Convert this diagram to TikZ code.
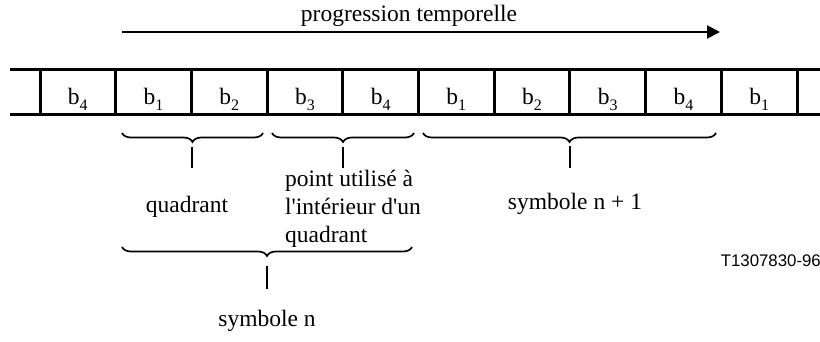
\documentclass[tikz,border=0pt]{standalone}
\usepackage{fontspec}
\setmainfont{Liberation Serif}
\newfontfamily\arialfont{Liberation Sans}
\usetikzlibrary{arrows.meta,decorations.pathreplacing}
\newcommand{\bsub}[1]{b\raisebox{-0.22em}{\fontsize{16}{16}\selectfont #1}}
\begin{document}
\begin{tikzpicture}[x=1pt,y=-1pt,
  font=\fontsize{23.5}{28}\selectfont,
  strip/.style={line width=3pt},
  lbl/.style={anchor=base,inner sep=0pt},
  bracestyle/.style={decorate,decoration={brace,mirror,amplitude=9pt},line width=1.7pt},
  tick/.style={line width=2pt},
  arr/.style={line width=2pt,-{Triangle[length=13pt,width=13pt]}}]
\useasboundingbox (0,0) rectangle (820,342);
% strip
\draw[strip] (10,70) -- (820,70);
\draw[strip] (10,115) -- (820,115);
\foreach \i in {0,...,10}{
  \draw[strip] ({40+75.7*\i},70) -- ({40+75.7*\i},115);
}
\foreach \lab [count=\k from 0] in {4,1,2,3,4,1,2,3,4,1}{
  \node[lbl] (c\k) at ({77.85+75.7*\k},105) {\bsub{\lab}};
}
% time arrow
\coordinate (a0) at (122,32);
\coordinate (a1) at (720,32);
\draw[arr] (a0) -- (a1);
\node[lbl] (prog) at (409,22) {progression temporelle};
% braces
\coordinate (q1s) at (122,133); \coordinate (q1e) at (263,133);
\coordinate (q2s) at (272,133); \coordinate (q2e) at (414,133);
\coordinate (s1s) at (423,133); \coordinate (s1e) at (716,133);
\coordinate (sns) at (122,247); \coordinate (sne) at (412,247);
\draw[bracestyle] (q1s) -- (q1e);
\draw[bracestyle] (q2s) -- (q2e);
\draw[bracestyle] (s1s) -- (s1e);
\draw[bracestyle] (sns) -- (sne);
% ticks
\coordinate (t1a) at (192,147); \coordinate (t1b) at (192,168);
\coordinate (t2a) at (343,147); \coordinate (t2b) at (343,168);
\coordinate (t3a) at (570,146); \coordinate (t3b) at (570,168);
\coordinate (t4a) at (267,266); \coordinate (t4b) at (267,289);
\draw[tick] (t1a) -- (t1b);
\draw[tick] (t2a) -- (t2b);
\draw[tick] (t3a) -- (t3b);
\draw[tick] (t4a) -- (t4b);
% labels
\node[lbl] (quad) at (187,213) {quadrant};
\node[anchor=base west,inner sep=0pt] (point) at (285,187)
  {\begin{tabular}[t]{@{}l@{}}point utilisé à\\ l\textquotesingle intérieur d\textquotesingle un\\ quadrant\end{tabular}};
\node[lbl] (symb1) at (575,210) {symbole n + 1};
\node[lbl] (symbn) at (267,326) {symbole n};
\node[anchor=base east,inner sep=0pt,font=\arialfont\fontsize{16.8}{18}\selectfont] (ref) at (821,266) {T1307830-96};
\end{tikzpicture}
\end{document}
